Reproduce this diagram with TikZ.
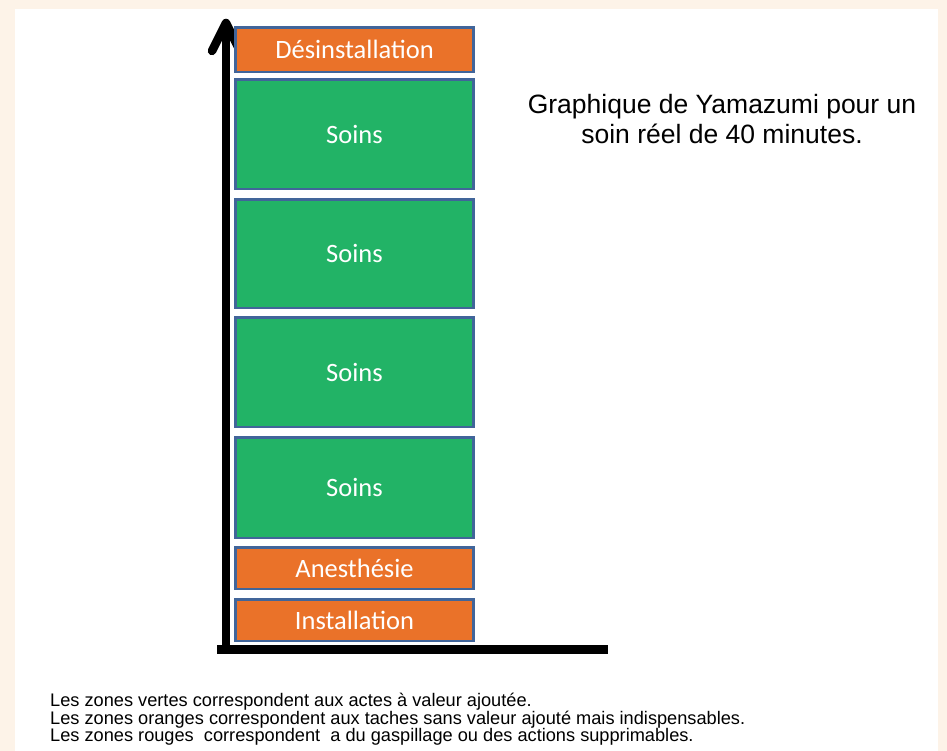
\documentclass[tikz,border=0pt]{standalone}
\usepackage{fontspec}
\setmainfont{Liberation Sans}
\newfontfamily\calib{Carlito}
\definecolor{cream}{HTML}{FDF3E8}
\definecolor{boxborder}{HTML}{41659A}
\definecolor{orangebox}{HTML}{EA7229}
\definecolor{greenbox}{HTML}{22B366}
\begin{document}
\begin{tikzpicture}[x=1pt,y=-1pt,
  bar/.style={draw=boxborder,line width=2.5pt,minimum width=238pt,anchor=north west,inner sep=0pt,text=white,font=\calib\fontsize{26.5}{30}\selectfont},
  orangebar/.style={bar,fill=orangebox},
  greenbar/.style={bar,fill=greenbox}]
\fill[cream] (0,0) rectangle (947,751);
\fill[white] (15,9) rectangle (938,751);
\useasboundingbox (0,0) rectangle (947,751);
% axes
\coordinate (ybot) at (226,649);
\coordinate (ytop) at (226,22);
\coordinate (xleft) at (217,649);
\coordinate (xright) at (608,649);
\coordinate (al) at (212,51);
\coordinate (ar) at (240,51);
\draw[line width=8.5pt] (ybot) -- (ytop);
\draw[line width=8.5pt,line cap=round,line join=round] (al) -- (226,23) -- (ar);
\draw[line width=9pt] (xleft) -- (xright);
% bars
\node[orangebar,minimum height=44.5pt] (des) at (234.25,26.25) {Désinstallation};
\node[greenbar,minimum height=109.5pt] (s1) at (234.25,78.25) {Soins};
\node[greenbar,minimum height=108.5pt] (s2) at (234.25,198.25) {Soins};
\node[greenbar,minimum height=109.5pt] (s3) at (234.25,316.25) {Soins};
\node[greenbar,minimum height=100.5pt] (s4) at (234.25,436.25) {Soins};
\node[orangebar,minimum height=41.5pt] (an) at (234.25,546.25) {Anesthésie};
\node[orangebar,minimum height=41.5pt] (ins) at (234.25,598.25) {Installation};
% title
\node[align=center,font=\fontsize{26.5}{30}\selectfont] (title) at (722,119) {Graphique de Yamazumi pour un\\soin réel de 40 minutes.};
% legend
\node[anchor=north west,align=left,inner sep=0pt,font=\fontsize{18.2}{17.5}\selectfont] (legend) at (50,693) {Les zones vertes correspondent aux actes à valeur ajoutée.\\
Les zones oranges correspondent aux taches sans valeur ajouté mais indispensables.\\
Les zones rouges\ \ correspondent\ \ a du gaspillage ou des actions supprimables.};
\end{tikzpicture}
\end{document}
